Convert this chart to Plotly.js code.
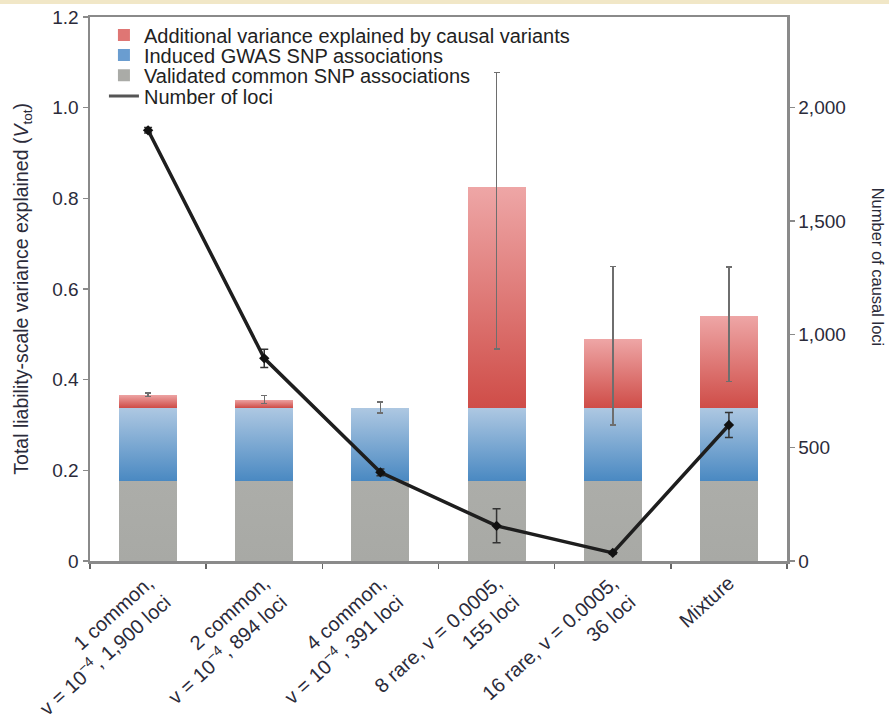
<!DOCTYPE html>
<html>
<head>
<meta charset="utf-8">
<script src="https://cdn.plot.ly/plotly-3.0.1.min.js"></script>
<style>
  html, body { margin: 0; padding: 0; }
  body { width: 889px; height: 720px; background: linear-gradient(#f1e7c7 0, #f1e7c7 4px, #ffffff 4px); }
  #chart { width: 889px; height: 720px; }
</style>
</head>
<body>
<div id="chart"></div>
<script>
// Simulated architectures (x categories)
const categories = [
  "1 common,<br>v = 10<sup>−4</sup>, 1,900 loci",
  "2 common,<br>v = 10<sup>−4</sup>, 894 loci",
  "4 common,<br>v = 10<sup>−4</sup>, 391 loci",
  "8 rare, v = 0.0005,<br>155 loci",
  "16 rare, v = 0.0005,<br>36 loci",
  "Mixture"
];

// Stacked variance components (left axis, V_tot)
const validatedCommon = [0.177, 0.177, 0.177, 0.177, 0.177, 0.177];
const inducedGwas     = [0.161, 0.161, 0.161, 0.161, 0.161, 0.161];
const additionalCausal = [0.029, 0.018, 0.000, 0.486, 0.152, 0.203];
const totalErrPlus  = [0.004, 0.009, 0.013, 0.254, 0.160, 0.107];
const totalErrMinus = [0.004, 0.009, 0.011, 0.356, 0.190, 0.145];

// Number of causal loci (right axis)
const numLoci    = [1900, 894, 391, 155, 36, 600];
const numLociErr = [12, 40, 15, 75, 6, 55];

// Axis tick labels
const leftTickVals = [0, 0.2, 0.4, 0.6, 0.8, 1.0, 1.2];
const leftTickText = ["0", "0.2", "0.4", "0.6", "0.8", "1.0", "1.2"];
const rightTickVals = [0, 500, 1000, 1500, 2000];
const rightTickText = ["0", "500", "1,000", "1,500", "2,000"];

const FONT = "Liberation Sans, Arial, Helvetica, sans-serif";
const TEXT = "#2b2b3a";
const AXIS = "#8a8a8a";

const traces = [
  {
    type: "bar", name: "Validated common SNP associations",
    x: categories, y: validatedCommon, width: 0.5,
    marker: { color: "#aaaba7", line: { width: 0 } },
    legend: "legend3", hoverinfo: "skip"
  },
  {
    type: "bar", name: "Induced GWAS SNP associations",
    x: categories, y: inducedGwas, width: 0.5,
    marker: { color: "#6a9dd0", line: { width: 0 } },
    legend: "legend2", hoverinfo: "skip"
  },
  {
    type: "bar", name: "Additional variance explained by causal variants",
    x: categories, y: additionalCausal, width: 0.5,
    marker: { color: "#df7674", line: { width: 0 } },
    error_y: {
      type: "data", symmetric: false,
      array: totalErrPlus, arrayminus: totalErrMinus,
      color: "#6e6e6e", thickness: 1.5, width: 3
    },
    legend: "legend", hoverinfo: "skip"
  },
  {
    type: "scatter", mode: "lines+markers", name: "Number of loci",
    x: categories, y: numLoci, yaxis: "y2",
    line: { color: "#1e1e1e", width: 3.5 },
    marker: { symbol: "diamond", size: 8, color: "#111111" },
    error_y: { type: "data", array: numLociErr, color: "#333333", thickness: 1.5, width: 4 },
    legend: "legend4", hoverinfo: "skip"
  }
];

// One legend box per row so the rows sit tightly stacked
function legendRow(yPaper) {
  return {
    x: 0.02, y: yPaper, xanchor: "left", yanchor: "middle",
    bgcolor: "rgba(0,0,0,0)", borderwidth: 0,
    font: { family: FONT, size: 20, color: "#222222" },
    itemwidth: 30
  };
}

const layout = {
  width: 889, height: 720,
  margin: { l: 90, r: 102, t: 17, b: 159 },
  paper_bgcolor: "rgba(0,0,0,0)",
  plot_bgcolor: "#ffffff",
  barmode: "stack",
  showlegend: true,
  font: { family: FONT, size: 19, color: TEXT },
  legend: legendRow(0.967),
  legend2: legendRow(0.930),
  legend3: legendRow(0.893),
  legend4: legendRow(0.855),
  xaxis: {
    type: "category", range: [-0.5, 5.5],
    showline: true, linecolor: AXIS, linewidth: 2.5, mirror: true,
    ticks: "outside", tickson: "boundaries", ticklen: 5, tickcolor: "#666", tickwidth: 1.5,
    tickangle: -42, tickfont: { family: FONT, size: 20, color: TEXT },
    showgrid: false, zeroline: false, fixedrange: true
  },
  yaxis: {
    range: [0, 1.2], tickvals: leftTickVals, ticktext: leftTickText,
    showline: true, linecolor: AXIS, linewidth: 2.5,
    ticks: "outside", ticklen: 5, tickcolor: AXIS, tickwidth: 1.5,
    tickfont: { family: FONT, size: 19, color: TEXT },
    showgrid: false, zeroline: false
  },
  yaxis2: {
    overlaying: "y", side: "right", range: [0, 2400],
    tickvals: rightTickVals, ticktext: rightTickText,
    showline: true, linecolor: AXIS, linewidth: 2.5,
    ticks: "outside", ticklen: 5, tickcolor: AXIS, tickwidth: 1.5,
    tickfont: { family: FONT, size: 19, color: TEXT },
    showgrid: false, zeroline: false
  },
  annotations: [
    {
      xref: "paper", yref: "paper", x: -0.098, y: 0.5,
      xanchor: "center", yanchor: "middle", textangle: -90, showarrow: false,
      text: "Total liability-scale variance explained (<i>V</i><sub>tot</sub>)",
      font: { family: FONT, size: 19.5, color: TEXT }
    },
    {
      xref: "paper", yref: "paper", x: 1.13, y: 0.54,
      xanchor: "center", yanchor: "middle", textangle: 90, showarrow: false,
      text: "Number of causal loci",
      font: { family: FONT, size: 16.5, color: TEXT }
    }
  ]
};

// Vertical shading for the stacked bar segments (light at top, deeper at bottom)
function applyBarShading(gd) {
  const svg = gd.querySelector(".main-svg");
  const NS = "http://www.w3.org/2000/svg";
  let defs = svg.querySelector("defs");
  if (!defs) { defs = document.createElementNS(NS, "defs"); svg.insertBefore(defs, svg.firstChild); }
  const grads = [
    { id: "shadeGray", stops: ["#acada9", "#a8a9a5"] },
    { id: "shadeBlue", stops: ["#aec8e2", "#4a89c2"] },
    { id: "shadeRed",  stops: ["#eea6a6", "#cf4d48"] }
  ];
  grads.forEach(g => {
    const lg = document.createElementNS(NS, "linearGradient");
    lg.setAttribute("id", g.id);
    lg.setAttribute("x1", "0"); lg.setAttribute("y1", "0");
    lg.setAttribute("x2", "0"); lg.setAttribute("y2", "1");
    g.stops.forEach((c, i) => {
      const s = document.createElementNS(NS, "stop");
      s.setAttribute("offset", i === 0 ? "0" : "1");
      s.setAttribute("stop-color", c);
      lg.appendChild(s);
    });
    defs.appendChild(lg);
  });
  const barTraces = gd.querySelectorAll(".barlayer .trace");
  barTraces.forEach((t, i) => {
    const id = grads[i] ? grads[i].id : null;
    if (!id) return;
    t.querySelectorAll(".point path").forEach(p => { p.style.fill = "url(#" + id + ")"; });
  });
  // legend entry for the loci series shows just a short line
  gd.querySelectorAll(".legendpoints .scatterpts").forEach(p => { p.style.display = "none"; });
  gd.querySelectorAll(".legendlines path").forEach(p => { p.style.strokeWidth = "3px"; p.style.stroke = "#555"; });
}

Plotly.newPlot("chart", traces, layout, { displayModeBar: false, staticPlot: true })
  .then(gd => applyBarShading(gd));
</script>
</body>
</html>
